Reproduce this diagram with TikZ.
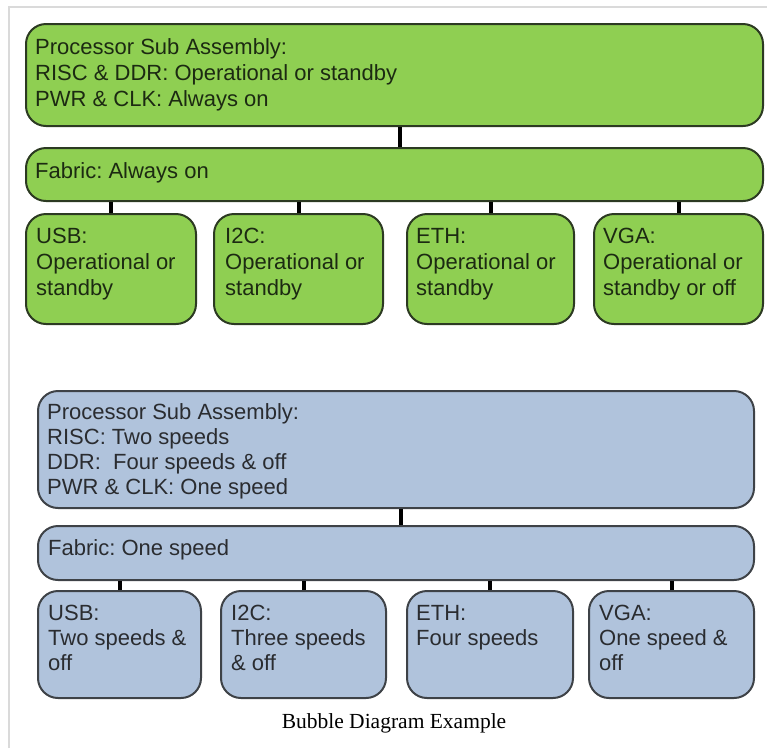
\documentclass[tikz,border=0pt]{standalone}
\usepackage{fontspec}
\newfontfamily\boxfont{Liberation Sans}
\newfontfamily\capfont{Liberation Serif}
\definecolor{gfill}{HTML}{8FCF52}
\definecolor{gline}{HTML}{2C3A22}
\definecolor{gtext}{HTML}{1C2A12}
\definecolor{bfill}{HTML}{B0C3DC}
\definecolor{bline}{HTML}{3E4247}
\definecolor{btext}{HTML}{2A2C30}
\definecolor{frame}{HTML}{DADADA}
\tikzset{
  box/.style={rectangle, rounded corners=20, line width=2, anchor=north west, inner sep=0},
  gbox/.style={box, draw=gline, fill=gfill},
  bbox/.style={box, draw=bline, fill=bfill},
  gtxt/.style={anchor=north west, inner sep=0, align=left, text=gtext,
    font=\boxfont\fontsize{22}{26}\selectfont\frenchspacing},
  btxt/.style={anchor=north west, inner sep=0, align=left, text=btext,
    font=\boxfont\fontsize{22}{25}\selectfont\frenchspacing},
  link/.style={line width=4, black},
}
\begin{document}
\begin{tikzpicture}[x=1pt, y=-1pt]
\useasboundingbox (0,0) rectangle (767,748);
% page frame
\draw[frame, line width=1.5] (9,748) -- (9,7) -- (767,7);

% ---- operational states (green) ----
\node[gbox, minimum width=737, minimum height=102] (gproc) at (25,23) {};
\node[gbox, minimum width=737, minimum height=53] (gfab) at (25,147) {};
\node[gbox, minimum width=170, minimum height=110] (gusb) at (25,213) {};
\node[gbox, minimum width=169, minimum height=110] (gi2c) at (213,213) {};
\node[gbox, minimum width=167, minimum height=110] (geth) at (406,213) {};
\node[gbox, minimum width=169, minimum height=110] (gvga) at (593,213) {};

\draw[link] ([xshift=5]gproc.south) -- ([xshift=5]gproc.south |- gfab.north);
\foreach \c in {gusb,gi2c,geth,gvga}
  \draw[link] (\c.north) -- (\c.north |- gfab.south);

\node[gtxt] (gprocT) at ([shift={(10,15)}]gproc.north west)
  {Processor Sub Assembly:\\RISC \& DDR: Operational or standby\\PWR \& CLK: Always on};
\node[gtxt] (gfabT) at ([shift={(10,15)}]gfab.north west) {Fabric: Always on};
\node[gtxt] (gusbT) at ([shift={(11,15)}]gusb.north west) {USB:\\Operational or\\standby};
\node[gtxt] (gi2cT) at ([shift={(12,15)}]gi2c.north west) {I2C:\\Operational or\\standby};
\node[gtxt] (gethT) at ([shift={(10,15)}]geth.north west) {ETH:\\Operational or\\standby};
\node[gtxt] (gvgaT) at ([shift={(10,15)}]gvga.north west) {VGA:\\Operational or\\standby or off};

% ---- speed states (blue) ----
\node[bbox, minimum width=716, minimum height=117] (bproc) at (37,390) {};
\node[bbox, minimum width=716, minimum height=54] (bfab) at (37,525) {};
\node[bbox, minimum width=163, minimum height=107] (busb) at (37,590) {};
\node[bbox, minimum width=165, minimum height=107] (bi2c) at (220,590) {};
\node[bbox, minimum width=166, minimum height=107] (beth) at (406,590) {};
\node[bbox, minimum width=165, minimum height=107] (bvga) at (588,590) {};

\draw[link] ([xshift=5]bproc.south) -- ([xshift=5]bproc.south |- bfab.north);
\foreach \c in {busb,bi2c,beth,bvga}
  \draw[link] (\c.north) -- (\c.north |- bfab.south);

\node[btxt] (bprocT) at ([shift={(10,13)}]bproc.north west)
  {Processor Sub Assembly:\\RISC: Two speeds\\DDR:\ \ Four speeds \& off\\PWR \& CLK: One speed};
\node[btxt] (bfabT) at ([shift={(11,14)}]bfab.north west) {Fabric: One speed};
\node[btxt] (busbT) at ([shift={(11,15)}]busb.north west) {USB:\\Two speeds \&\\off};
\node[btxt] (bi2cT) at ([shift={(11,15)}]bi2c.north west) {I2C:\\Three speeds\\\& off};
\node[btxt] (bethT) at ([shift={(10,15)}]beth.north west) {ETH:\\Four speeds};
\node[btxt] (bvgaT) at ([shift={(11,15)}]bvga.north west) {VGA:\\One speed \&\\off};

% caption
\node[anchor=base, inner sep=0, font=\capfont\fontsize{21.5}{26}\selectfont, text=black]
  (caption) at (394,728) {Bubble Diagram Example};
\end{tikzpicture}
\end{document}
